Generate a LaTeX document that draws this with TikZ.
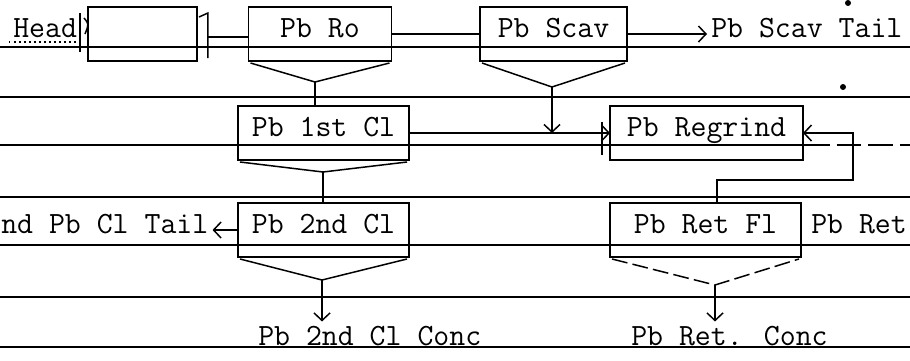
\documentclass[tikz,border=0pt]{standalone}
\usepackage{fontspec}
\usetikzlibrary{calc,arrows.meta}
\def\launder[#1](#2)(#3){\draw[#1] ([shift={(2,2)}]#2.south west) -- (#3) -- ([shift={(-2,2)}]#2.south east);}

\begin{document}
\begin{tikzpicture}[x=0.02cm, y=-0.02cm, line width=0.85pt,
		font=\ttfamily\fontsize{17.6}{20}\selectfont,
		>={Straight Barb[length=1.5mm,width=3.2mm]},
		cell/.style={draw, inner ysep=0pt, outer sep=0pt, text height=0.6cm, text depth=0.48cm, anchor=base},
		lbl/.style={inner sep=2pt, anchor=base west}]
			%%%%% START %%%%%
			\useasboundingbox (0,0) rectangle (910,360);
			\clip (0,0) rectangle (910,360);
			
			% ruled sheet
			\foreach \y in {47,97,197,245,297,347}
				\draw (0,\y) -- (910,\y);
			\draw (0,145) -- (805,145);
			\draw[dash pattern=on 14pt off 4pt] (805,145) -- (910,145);
			
			% cells
			\node[cell, minimum width=2.18cm] (feed) at (142.5,37) {};
			\node[cell, minimum width=2.86cm] (ro) at (320,37) {Pb Ro};
			\node[cell, minimum width=2.94cm] (scav) at (553.5,37) {Pb Scav};
			\node[cell, minimum width=3.42cm] (cl1) at (323.5,136) {Pb 1st Cl};
			\node[cell, minimum width=3.86cm] (regrind) at (706.5,136) {Pb Regrind};
			\node[cell, minimum width=3.42cm] (cl2) at (323.5,233) {Pb 2nd Cl};
			\node[cell, minimum width=3.82cm] (retfl) at (705.5,233) {Pb Ret Fl};
			
			% streams
			\node[lbl] (head) at (9,37) {Head};
			\node[lbl] (scavtail) at (707,37) {Pb Scav Tail};
			\node[lbl] (cltail) at (-3,233) {nd Pb Cl Tail};
			\node[lbl] (rettail) at (807,233) {Pb Ret};
			\node[lbl] (conc2) at (254,345) {Pb 2nd Cl Conc};
			\node[lbl] (retconc) at (627,345) {Pb Ret. Conc};
			
			\draw[dotted] ([shift={(0,5)}]head.base west) -- ([shift={(0,5)}]head.base east);
			\draw (80,13) -- (80,52);
			\draw (84,18) .. controls (89,24) .. (85,34);
			
			% launders
			\coordinate (rov) at (315,82);
			\coordinate (scavv) at (552,87);
			\coordinate (cl1v) at (323,172);
			\coordinate (cl2v) at (322,280);
			\coordinate (retflv) at (715,285);
			\launder[](ro)(rov)
			\launder[](scav)(scavv)
			\launder[](cl1)(cl1v)
			\launder[](cl2)(cl2v)
			\launder[dash pattern=on 9pt off 3pt](retfl)(retflv)
			
			\draw (rov) -- (rov |- cl1.north);
			\draw[->] (scavv) -- (scavv |- cl1.east);
			\draw (cl1v) -- (cl1v |- cl2.north);
			\draw[->] (cl2v) -- (cl2v |- conc2.north);
			\draw[->] (retflv) -- (retflv |- retconc.north);
			
			% feed cell outlet
			\draw ([shift={(2,10)}]feed.north east) -- ++(9,-4) -- ++(0,45);
			\coordinate (notch) at (208,37);
			\draw (notch) -- (notch -| ro.west);
			
			\draw (ro.east) -- (scav.west);
			\draw[->] (scav.east) -- (scav.east -| scavtail.west);
			\draw[->] (cl1.east) -- (cl1.east -| regrind.west);
			\draw (602,122) -- (602,155);
			\draw[->] (cl2.west) -- (cl2.west -| cltail.east);
			
			% regrind return
			\coordinate (rc1) at (717,180);
			\coordinate (rc2) at (853,180);
			\draw[->] (rc1 |- retfl.north) -- (rc1) -- (rc2) -- (rc2 |- regrind.east) -- (regrind.east);
			
			\fill (843,87) circle (3);
			\fill (848,3) circle (3);
			%%%%% END %%%%%
		\end{tikzpicture}
\end{document}
